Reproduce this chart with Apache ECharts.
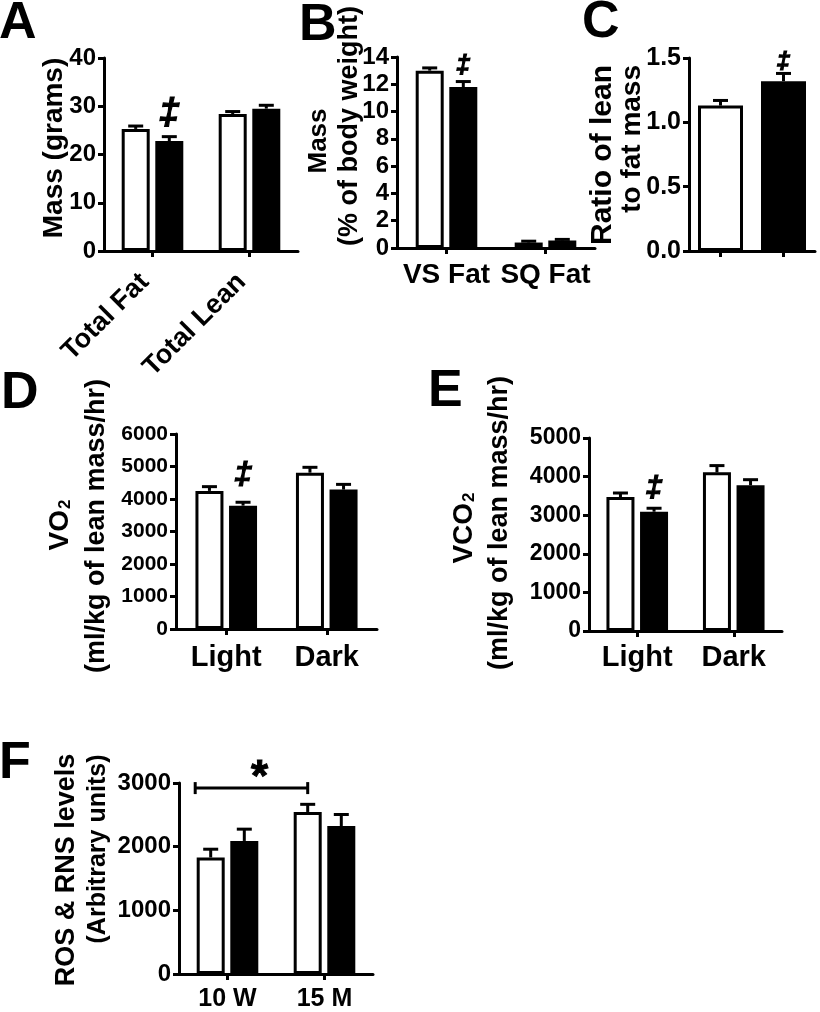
<!DOCTYPE html>
<html>
<head>
<meta charset="utf-8">
<script src="https://cdn.jsdelivr.net/npm/echarts@6/dist/echarts.min.js"></script>
<style>
html,body{margin:0;padding:0;background:#fff;}
#chart{width:820px;height:1012px;}
</style>
</head>
<body>
<div id="chart"></div>
<script>
// ---------- DATA ----------
// Panel A
const catA = ['Total Fat', 'Total Lean'];
const whiteA = [25.3, 28.4];
const whiteErrA = [0.6, 0.5];
const blackA = [22.8, 29.5];
const blackErrA = [0.9, 0.7];
const sigA = ['‡', ''];
const ticksA = { max: 40, interval: 10 };
// Panel B
const catB = ['VS Fat', 'SQ Fat'];
const whiteB = [13.0, 0.4];
const whiteErrB = [0.2, 0.1];
const blackB = [11.8, 0.55];
const blackErrB = [0.4, 0.08];
const sigB = ['‡', ''];
const ticksB = { max: 14, interval: 2 };
// Panel C
const catC = ['Group 1', 'Group 2'];
const whiteC = [1.13, '-'];
const whiteErrC = [0.04, 0];
const blackC = ['-', 1.32];
const blackErrC = [0, 0.06];
const sigC = ['', '‡'];
const ticksC = { max: 1.5, interval: 0.5 };
// Panel D
const catD = ['Light', 'Dark'];
const whiteD = [4250, 4810];
const whiteErrD = [130, 165];
const blackD = [3795, 4290];
const blackErrD = [105, 160];
const sigD = ['‡', ''];
const ticksD = { max: 6000, interval: 1000 };
// Panel E
const catE = ['Light', 'Dark'];
const whiteE = [3470, 4110];
const whiteErrE = [105, 175];
const blackE = [3090, 3775];
const blackErrE = [90, 145];
const sigE = ['‡', ''];
const ticksE = { max: 5000, interval: 1000 };
// Panel F
const catF = ['10 W', '15 M'];
const whiteF = [1830, 2545];
const whiteErrF = [130, 120];
const blackF = [2090, 2325];
const blackErrF = [185, 180];
const sigF = ['', ''];
const ticksF = { max: 3000, interval: 1000 };
const bracketF = [0, 1, 2920]; // from category 0 to category 1 at value
const bracketLabelF = '*';

// ---------- STYLE / LAYOUT ----------
const FONT = "'Liberation Sans', Arial, Helvetica, sans-serif";
const panels = [
  { cat: catA, w: whiteA, we: whiteErrA, b: blackA, be: blackErrA, sig: sigA, t: ticksA,
    grid: { left: 104, top: 58, width: 194, height: 193 }, yFont: 24, xFont: 27, xRotate: 45, xMargin: 19,
    xPad: [0, 11, 0, 0], bw: 28, gap: 0.2, sigFont: 37, sigOff: 23, dec: 0 },
  { cat: catB, w: whiteB, we: whiteErrB, b: blackB, be: blackErrB, sig: sigB, t: ticksB,
    grid: { left: 397, top: 57, width: 198, height: 191 }, yFont: 24, xFont: 28, xRotate: 0, xMargin: 13,
    bw: 28, gap: 0.2, sigFont: 25, sigOff: 15, dec: 0 },
  { cat: catC, w: whiteC, we: whiteErrC, b: blackC, be: blackErrC, sig: sigC, t: ticksC,
    grid: { left: 689, top: 58, width: 126, height: 193 }, yFont: 25, xFont: 20, xRotate: 0, xMargin: 10,
    bw: 45, gap: -1, sigFont: 24, sigOff: 11, dec: 1, hideX: true },
  { cat: catD, w: whiteD, we: whiteErrD, b: blackD, be: blackErrD, sig: sigD, t: ticksD,
    grid: { left: 176, top: 434, width: 201, height: 195 }, yFont: 21, xFont: 29, xRotate: 0, xMargin: 14,
    bw: 28, gap: 0.2, sigFont: 32, sigOff: 27, dec: 0 },
  { cat: catE, w: whiteE, we: whiteErrE, b: blackE, be: blackErrE, sig: sigE, t: ticksE,
    grid: { left: 589, top: 438, width: 193, height: 193 }, yFont: 23, xFont: 29, xRotate: 0, xMargin: 12,
    bw: 28, gap: 0.2, sigFont: 30, sigOff: 20, dec: 0 },
  { cat: catF, w: whiteF, we: whiteErrF, b: blackF, be: blackErrF, sig: sigF, t: ticksF,
    grid: { left: 179, top: 783, width: 194, height: 193 }, yFont: 24, xFont: 25, xRotate: 0, xMargin: 13,
    bw: 28, gap: 0.2, sigFont: 25, sigOff: 20, dec: 0 }
];

const grids = [], xAxes = [], yAxes = [], series = [];

function errSeries(pi, p, means, errs, side) {
  const shift = p.gap < 0 ? 0 : side * p.bw * (1 + p.gap) / 2;
  return {
    type: 'custom', xAxisIndex: pi, yAxisIndex: pi, z: 5, silent: true,
    data: means.map((m, i) => [i, m === '-' ? NaN : m, errs[i]]),
    renderItem: function (params, api) {
      const m = api.value(1);
      if (isNaN(m)) return null;
      const c = api.value(0);
      const top = api.coord([c, m + api.value(2)]);
      const base = api.coord([c, m]);
      const x = top[0] + shift;
      const children = [
        { type: 'line', shape: { x1: x, y1: base[1], x2: x, y2: top[1] }, style: { stroke: '#000', lineWidth: 3 } },
        { type: 'line', shape: { x1: x - 7.5, y1: top[1], x2: x + 7.5, y2: top[1] }, style: { stroke: '#000', lineWidth: 3 } }
      ];
      const s = side > 0 ? p.sig[params.dataIndex] : '';
      if (s) {
        children.push({ type: 'text', style: { text: s, x: x, y: top[1] - p.sigOff, fill: '#000',
          stroke: '#000', lineWidth: 1.2,
          fontSize: p.sigFont, fontWeight: 'bold', fontStyle: 'italic', fontFamily: FONT,
          align: 'center', verticalAlign: 'middle' } });
      }
      return { type: 'group', children: children };
    }
  };
}

panels.forEach((p, pi) => {
  grids.push(Object.assign({ containLabel: false }, p.grid));
  const xl = { show: !p.hideX, interval: 0, rotate: p.xRotate, margin: p.xMargin, color: '#000',
      fontSize: p.xFont, fontWeight: 'bold', fontFamily: FONT };
  if (p.xPad) xl.padding = p.xPad;
  xAxes.push({
    type: 'category', gridIndex: pi, data: p.cat,
    axisLine: { lineStyle: { color: '#000', width: 3 } },
    axisTick: { show: true, alignWithLabel: true, length: 6, lineStyle: { color: '#000', width: 3 } },
    axisLabel: xl,
    splitLine: { show: false }
  });
  yAxes.push({
    type: 'value', gridIndex: pi, min: 0, max: p.t.max, interval: p.t.interval,
    axisLine: { show: true, lineStyle: { color: '#000', width: 3 } },
    axisTick: { show: true, length: 6, lineStyle: { color: '#000', width: 3 } },
    axisLabel: { color: '#000', fontSize: p.yFont, fontWeight: 'bold', fontFamily: FONT, margin: 8,
      formatter: v => v.toFixed(p.dec) },
    splitLine: { show: false }
  });
  series.push({
    type: 'bar', name: 'white', xAxisIndex: pi, yAxisIndex: pi, data: p.w, barWidth: p.bw,
    barGap: p.gap < 0 ? '-100%' : (p.gap * 100) + '%', silent: true,
    itemStyle: { color: '#fff', borderColor: '#000', borderWidth: 3 }
  });
  series.push({
    type: 'bar', name: 'black', xAxisIndex: pi, yAxisIndex: pi, data: p.b, barWidth: p.bw,
    barGap: p.gap < 0 ? '-100%' : (p.gap * 100) + '%', silent: true,
    itemStyle: { color: '#000', borderColor: '#000', borderWidth: 3 }
  });
  series.push(errSeries(pi, p, p.w, p.we, -1));
  series.push(errSeries(pi, p, p.b, p.be, 1));
});

// Bracket with significance star on panel F
const pF = panels[5];
const shiftF = pF.bw * (1 + pF.gap) / 2;
series.push({
  type: 'custom', xAxisIndex: 5, yAxisIndex: 5, z: 5, silent: true,
  data: [bracketF],
  renderItem: function (params, api) {
    const a = api.coord([api.value(0), api.value(2)]);
    const b = api.coord([api.value(1), api.value(2)]);
    const x1 = a[0] - shiftF - pF.bw / 2 - 1.5;
    const x2 = b[0] - shiftF;
    const y = a[1];
    const st = { stroke: '#000', lineWidth: 3 };
    return { type: 'group', children: [
      { type: 'line', shape: { x1: x1, y1: y, x2: x2, y2: y }, style: st },
      { type: 'line', shape: { x1: x1, y1: y - 6, x2: x1, y2: y + 6 }, style: st },
      { type: 'line', shape: { x1: x2, y1: y - 6, x2: x2, y2: y + 6 }, style: st },
      { type: 'text', style: { text: bracketLabelF, x: (x1 + x2) / 2 + 8, y: y - 9, fill: '#000',
        stroke: '#000', lineWidth: 1,
        fontSize: 44, fontWeight: 'bold', fontFamily: FONT, align: 'center', verticalAlign: 'middle' } }
    ] };
  }
});

function label(txt, x, y) {
  return { type: 'text', x: x, y: y, silent: true,
    style: { text: txt, fill: '#000', fontSize: 52, fontWeight: 'bold', fontFamily: FONT, align: 'left', verticalAlign: 'top' } };
}
function vtitle(txt, x, y, size, align, rich) {
  const st = { text: txt, fill: '#000', fontSize: size, fontWeight: 'bold', fontFamily: FONT,
    align: align || 'center', verticalAlign: 'middle' };
  if (rich) st.rich = rich;
  return { type: 'text', x: x, y: y, rotation: Math.PI / 2, silent: true, style: st };
}
const subRich = { s: { fontSize: 17, fontWeight: 'bold', fontFamily: FONT, fill: '#000', verticalAlign: 'bottom', padding: [0, 0, 0, 1] } };

const graphic = [
  label('A', -1, -2), label('B', 299, 0), label('C', 582, -3),
  label('D', 1, 368), label('E', 428, 366), label('F', -1, 738),
  vtitle('Mass (grams)', 54, 148, 28),
  vtitle('Mass', 319, 141, 26),
  vtitle('(% of body weight)', 350, 126, 27),
  vtitle('Ratio of lean', 603, 65, 30, 'right'),
  vtitle('to fat mass', 632, 65, 28, 'right'),
  vtitle('VO{s|2}', 60, 525, 28, 'center', subRich),
  vtitle('(ml/kg of lean mass/hr)', 97, 526, 27),
  vtitle('VCO{s|2}', 464, 528, 28, 'center', subRich),
  vtitle('(ml/kg of lean mass/hr)', 500, 523, 27),
  vtitle('ROS & RNS levels', 67, 870, 27),
  vtitle('(Arbitrary units)', 98, 849, 25)
];

const chart = echarts.init(document.getElementById('chart'), null, { renderer: 'canvas' });
chart.setOption({
  animation: false,
  backgroundColor: '#fff',
  textStyle: { fontFamily: FONT },
  grid: grids, xAxis: xAxes, yAxis: yAxes, series: series, graphic: graphic
});
</script>
</body>
</html>
